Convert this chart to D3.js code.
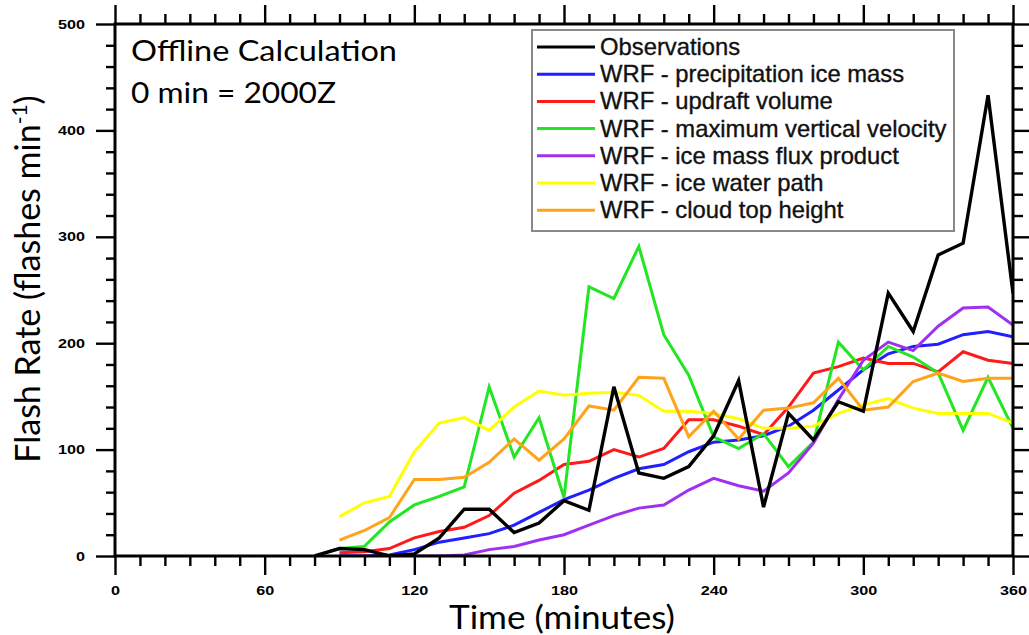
<!DOCTYPE html>
<html>
<head>
<meta charset="utf-8">
<script src="https://cdn.jsdelivr.net/npm/d3@7/dist/d3.min.js"></script>
<style>
  html, body { margin: 0; padding: 0; background: #fff; }
  svg { display: block; }
</style>
</head>
<body>
<svg id="chart" width="1029" height="635"></svg>
<script>
// ---------------- data ----------------
const obsTime = [80,90,100,110,120,130,140,150,160,170,180,190,200,210,220,230,240,250,260,270,280,290,300,310,320,330,340,350,360];
const observations = [0,7,6,0,2,17,44,44,22,31,52,43,159,78,73,84,113,165,46,134,109,145,136,247,211,283,294,433,247];

const wrfTime = [90,100,110,120,130,140,150,160,170,180,190,200,210,220,230,240,250,260,270,280,290,300,310,320,330,340,350,360];
const precipIceMass = [0,0,1,6,13,17,21,29,41,53,62,73,82,86,98,107,109,113,122,137,156,175,190,197,199,208,211,206];
const updraftVolume = [3,4,7,17,23,27,38,59,71,86,89,100,93,101,128,128,122,114,140,172,178,186,181,181,173,192,184,181];
const maxVertVelocity = [7,9,32,48,56,65,159,93,130,55,253,242,291,208,170,112,101,115,84,107,201,175,197,187,172,118,168,120];
const iceMassFlux = [0,0,0,0,0,1,6,9,15,20,29,38,45,48,62,73,66,61,78,106,147,184,201,193,216,233,234,217];
const iceWaterPath = [37,50,56,98,125,130,118,140,155,151,153,154,151,136,136,134,129,120,120,122,134,142,148,139,134,134,134,125];
const cloudTopHeight = [15,24,36,72,72,74,88,110,90,110,141,137,168,167,112,136,110,137,139,144,167,137,140,164,172,164,167,167];

const seriesNames = ["Observations","WRF - precipitation ice mass","WRF - updraft volume","WRF - maximum vertical velocity","WRF - ice mass flux product","WRF - ice water path","WRF - cloud top height"];
const seriesColors = ["#000000","#1f1fff","#ff1a1a","#22e622","#a030f0","#ffff00","#ffa31a"];

const xTickValues = [0,60,120,180,240,300,360];
const yTickValues = [0,100,200,300,400,500];
const xTitle = "Time (minutes)";
const annotation = ["Offline Calculation","0 min = 2000Z"];

// ---------------- layout ----------------
const svg = d3.select("#chart");
const L = 115, R = 1013, T = 24, B = 556;
const x = d3.scaleLinear().domain([0,360]).range([L,R]);
const y = d3.scaleLinear().domain([0,500]).range([B,T]);

const series = [
  {t: obsTime, v: observations},
  {t: wrfTime, v: precipIceMass},
  {t: wrfTime, v: updraftVolume},
  {t: wrfTime, v: maxVertVelocity},
  {t: wrfTime, v: iceMassFlux},
  {t: wrfTime, v: iceWaterPath},
  {t: wrfTime, v: cloudTopHeight}
].map((s,i) => ({name: seriesNames[i], color: seriesColors[i], pts: s.t.map((tt,j)=>[tt, s.v[j]])}));

svg.append("clipPath").attr("id","plotclip").append("rect")
  .attr("x",L).attr("y",T).attr("width",R-L).attr("height",B-T);

const line = d3.line().x(d=>x(d[0])).y(d=>y(d[1]));
const g = svg.append("g").attr("clip-path","url(#plotclip)");
const drawOrder = [1,2,3,4,5,6,0];
drawOrder.forEach(i => {
  g.append("path").datum(series[i].pts)
    .attr("d", line)
    .attr("fill","none")
    .attr("stroke", series[i].color)
    .attr("stroke-width", i===0 ? 3.4 : 3)
    .attr("stroke-linejoin","miter")
    .attr("stroke-miterlimit", 4);
});

// ---------------- axes ----------------
const xMinor = d3.range(0,361,10).filter(v => !xTickValues.includes(v));
const yMinor = d3.range(0,501,20).filter(v => !yTickValues.includes(v));

function axisStyle(sel){
  sel.select(".domain").remove();
  sel.selectAll(".tick line").attr("stroke","#000").attr("stroke-width",2.4);
}
function labelStyle(sel){
  sel.selectAll("text")
    .attr("font-family","'Liberation Sans', Arial, sans-serif")
    .attr("font-weight","bold").attr("font-size",12.5).attr("fill","#000")
    .attr("textLength", function(){ return this.textContent.length * 9; })
    .attr("lengthAdjust","spacingAndGlyphs");
}
const bottom = svg.append("g").attr("transform",`translate(0,${B})`)
  .call(d3.axisBottom(x).tickValues(xTickValues).tickSize(19).tickPadding(12).tickFormat(d3.format("d")));
axisStyle(bottom); labelStyle(bottom);
bottom.selectAll("text").attr("dy", null).attr("y", 38.5);
svg.append("g").attr("transform",`translate(0,${B})`)
  .call(d3.axisBottom(x).tickValues(xMinor).tickSize(10).tickFormat("")).call(axisStyle);
svg.append("g").attr("transform",`translate(0,${T})`)
  .call(d3.axisTop(x).tickValues(xTickValues).tickSize(19).tickFormat("")).call(axisStyle);
svg.append("g").attr("transform",`translate(0,${T})`)
  .call(d3.axisTop(x).tickValues(xMinor).tickSize(10).tickFormat("")).call(axisStyle);
const left = svg.append("g").attr("transform",`translate(${L},0)`)
  .call(d3.axisLeft(y).tickValues(yTickValues).tickSize(19).tickPadding(11).tickFormat(d3.format("d")));
axisStyle(left); labelStyle(left);
svg.append("g").attr("transform",`translate(${L},0)`)
  .call(d3.axisLeft(y).tickValues(yMinor).tickSize(9).tickFormat("")).call(axisStyle);
svg.append("g").attr("transform",`translate(${R},0)`)
  .call(d3.axisRight(y).tickValues(yTickValues).tickSize(19).tickFormat("")).call(axisStyle);
svg.append("g").attr("transform",`translate(${R},0)`)
  .call(d3.axisRight(y).tickValues(yMinor).tickSize(10).tickFormat("")).call(axisStyle);

svg.append("rect").attr("x",L).attr("y",T).attr("width",R-L).attr("height",B-T)
  .attr("fill","none").attr("stroke","#000").attr("stroke-width",3);

// ---------------- titles ----------------
const titleFont = "Lato, 'Open Sans', sans-serif";
svg.append("text").attr("x", 562).attr("y", 629)
  .attr("text-anchor","middle").attr("font-family",titleFont).attr("font-size",32)
  .attr("textLength",226).attr("lengthAdjust","spacingAndGlyphs")
  .attr("fill","#000").text(xTitle);

const yt = svg.append("text")
  .attr("transform",`translate(40,279) rotate(-90)`)
  .attr("text-anchor","middle").attr("font-family",titleFont).attr("font-size",34).attr("fill","#000");
yt.append("tspan").text("Flash Rate (flashes min");
yt.append("tspan").attr("dy",-13).attr("font-size",21).text("-1");
yt.append("tspan").attr("dy",13).text(")");

const annLen = [266, 205];
annotation.forEach((s,i) => {
  svg.append("text").attr("x",131).attr("y",61 + i*42)
    .attr("font-family",titleFont).attr("font-size",28)
    .attr("textLength",annLen[i]).attr("lengthAdjust","spacingAndGlyphs")
    .attr("fill","#000").text(s);
});

// ---------------- legend ----------------
const lg = svg.append("g");
lg.append("rect").attr("x",532).attr("y",30).attr("width",422).attr("height",201)
  .attr("fill","#fff").attr("stroke","#888").attr("stroke-width",2);
series.forEach((s,i) => {
  const cy = 47 + i*27.2;
  lg.append("line").attr("x1",537).attr("x2",595).attr("y1",cy).attr("y2",cy)
    .attr("stroke",s.color).attr("stroke-width",3);
  lg.append("text").attr("x",600).attr("y",cy+8)
    .attr("font-family","'Liberation Sans', Arial, sans-serif").attr("font-size",23.8)
    .attr("fill","#111").attr("stroke","#111").attr("stroke-width",0.35).text(s.name);
});
</script>
</body>
</html>
